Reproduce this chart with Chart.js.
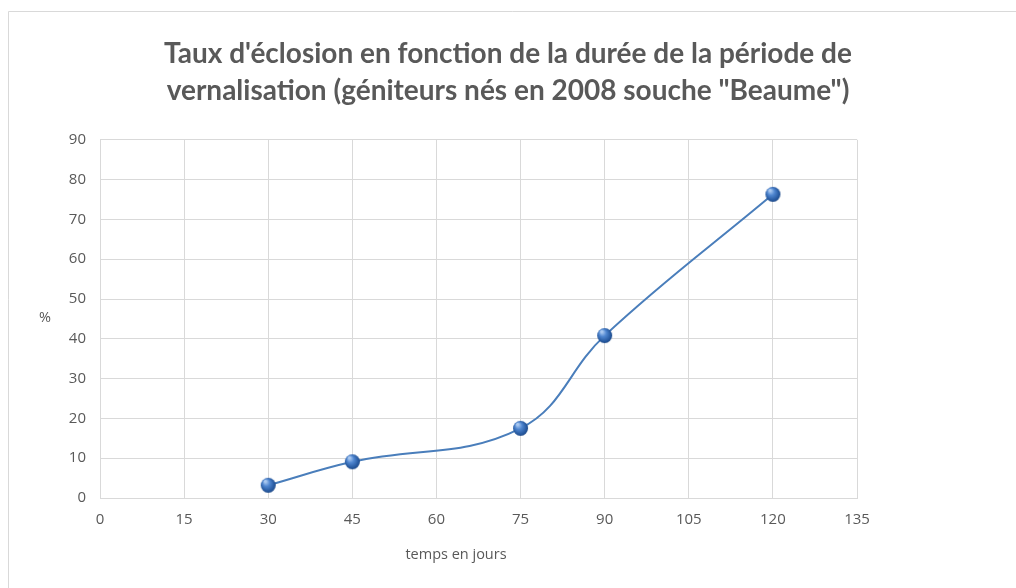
<!DOCTYPE html>
<html>
<head>
<meta charset="utf-8">
<script src="https://cdn.jsdelivr.net/npm/chart.js@4/dist/chart.umd.min.js"></script>
<style>
    html, body { margin: 0; padding: 0; background: #fff; }
    #wrap { width: 1016px; height: 588px; position: relative; }
</style>
</head>
<body>
<div id="wrap"><canvas id="lineCanvas" width="1016" height="588"></canvas></div>
<script>
var joursValues = [30, 45, 75, 90, 120];
var tauxValues = [3.2, 9.1, 17.5, 40.8, 76.3];
var titleLines = ["Taux d'éclosion en fonction de la durée de la période de",
                  'vernalisation (géniteurs nés en 2008 souche "Beaume")'];
var xTitle = 'temps en jours';
var yTitle = '%';

var textColor = '#595959',
    gridColor = '#d9d9d9',
    lineColor = '#4a7ebb';

// little 3d looking ball for the markers
function makeBall(r) {
    var c = document.createElement('canvas');
    c.width = c.height = r * 2 + 2;
    var g = c.getContext('2d');
    var grad = g.createRadialGradient(r - 2, r - 3, 1, r + 1, r + 1, r + 1);
    grad.addColorStop(0, '#a9c8f0');
    grad.addColorStop(0.35, '#4f86d0');
    grad.addColorStop(0.8, '#23559b');
    grad.addColorStop(1, '#1a3f75');
    g.fillStyle = grad;
    g.beginPath();
    g.arc(r + 1, r + 1, r, 0, Math.PI * 2);
    g.fill();
    return c;
}

var frame = {
    id: 'frame',
    beforeDraw: function (chart) {
        var ctx = chart.ctx;
        ctx.save();
        ctx.fillStyle = '#fff';
        ctx.fillRect(0, 0, chart.width, chart.height);
        ctx.strokeStyle = gridColor;
        ctx.lineWidth = 1;
        ctx.beginPath();
        ctx.moveTo(8.5, chart.height);
        ctx.lineTo(8.5, 11.5);
        ctx.lineTo(chart.width, 11.5);
        ctx.stroke();
        ctx.restore();
    },
    afterDraw: function (chart) {
        var ctx = chart.ctx;
        ctx.save();
        ctx.fillStyle = textColor;
        ctx.font = '14.5px "Open Sans"';
        ctx.textAlign = 'center';
        ctx.textBaseline = 'middle';
        ctx.fillText(yTitle, 45, 318);
        ctx.fillText(xTitle, 456, 555);
        ctx.restore();
    }
};

var points = joursValues.map(function (x, i) { return {x: x, y: tauxValues[i]}; });

var chart = new Chart(document.getElementById('lineCanvas').getContext('2d'), {
    type: 'scatter',
    data: {
        datasets: [{
            data: points,
            showLine: true,
            borderColor: lineColor,
            borderWidth: 2,
            tension: 0.4,
            pointStyle: makeBall(7.5),
            pointRadius: 7.5
        }]
    },
    options: {
        responsive: false,
        animation: false,
        layout: {padding: 0},
        plugins: {
            legend: {display: false},
            tooltip: {enabled: false},
            title: {
                display: true,
                text: titleLines,
                color: textColor,
                font: {family: 'Lato', size: 28, weight: 'bold', lineHeight: 1.3},
                padding: {top: 36, bottom: 31}
            }
        },
        scales: {
            x: {
                type: 'linear',
                min: 0,
                max: 135,
                ticks: {stepSize: 15, color: textColor, padding: 13, font: {family: 'Open Sans', size: 15}},
                grid: {color: gridColor, drawTicks: false},
                border: {color: gridColor},
                afterFit: function (scale) { scale.height = 90; }
            },
            y: {
                min: 0,
                max: 90,
                ticks: {stepSize: 10, color: textColor, padding: 14, font: {family: 'Open Sans', size: 15}},
                grid: {color: gridColor, drawTicks: false},
                border: {color: gridColor},
                afterFit: function (scale) { scale.width = 100; }
            },
            // empty right side space, keeps the title centred on the page
            spacer: {
                type: 'linear',
                position: 'right',
                display: true,
                ticks: {display: false},
                grid: {display: false, drawTicks: false},
                border: {display: false},
                afterFit: function (scale) { scale.width = 159; }
            }
        }
    },
    plugins: [frame]
});
</script>
</body>
</html>
